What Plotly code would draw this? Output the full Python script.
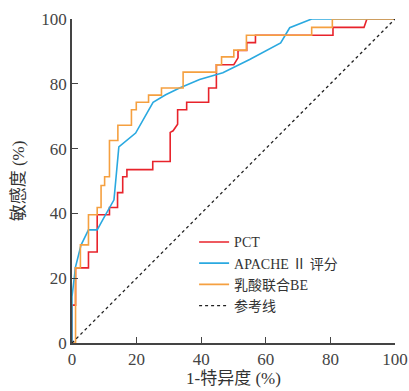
import plotly.graph_objects as go

# PCT ROC curve (1-specificity %, sensitivity %)
pct_x = [0, 0, 1.1, 1.1, 5.1, 5.1, 7.8, 7.8, 11.6, 11.6, 14.1, 14.1, 15.7, 15.7, 17.0, 17.0,
         25.0, 25.0, 30.4, 30.4, 31.3, 32.7, 32.7, 35.5, 35.5, 42.3, 42.3, 44.7, 44.7,
         50.1, 51.4, 51.4, 54.1, 54.1, 56.8, 56.8, 80.8, 80.8, 90.4, 91.3, 100]
pct_y = [0, 11.7, 11.7, 23.2, 23.2, 28.1, 28.1, 39.6, 39.6, 41.8, 41.8, 46.4, 46.4, 51.3, 51.3, 53.5,
         53.5, 56.0, 56.0, 65.0, 65.5, 67.5, 72.0, 72.0, 74.3, 74.3, 78.7, 78.7, 85.9,
         85.9, 88.0, 90.3, 90.3, 92.7, 92.7, 95.0, 95.0, 97.4, 97.4, 100, 100]

# APACHE II score ROC curve
apache_x = [0, 0, 1.1, 2.8, 5.1, 7.8, 9.5, 13.0, 14.5, 17.1, 19.7, 25.1, 29.0, 33.3, 39.5, 46.7,
            55.0, 64.6, 67.4, 74.2, 100]
apache_y = [0, 14.3, 23.5, 30.2, 34.9, 34.9, 38.0, 44.2, 60.5, 62.8, 64.8, 74.3, 76.6, 78.7, 81.3, 83.4,
            87.5, 92.6, 97.3, 100, 100]

# Lactate combined with BE ROC curve
lac_x = [0, 1.1, 1.1, 2.6, 2.6, 5.1, 5.1, 7.8, 7.8, 9.0, 9.0, 10.1, 10.1, 11.6, 11.6, 14.2, 14.2,
         18.4, 18.4, 19.9, 19.9, 23.7, 23.7, 27.7, 27.7, 34.4, 34.4, 44.7, 44.7, 46.3, 46.3,
         50.1, 50.1, 54.0, 54.0, 74.2, 74.2, 80.6, 80.6, 100]
lac_y = [0, 0, 23.2, 23.2, 30.3, 30.3, 39.6, 39.6, 41.8, 41.8, 48.6, 48.6, 51.3, 51.3, 62.5, 62.5, 67.2,
         67.2, 72.0, 72.0, 74.3, 74.3, 76.5, 76.5, 78.7, 78.7, 83.6, 83.6, 85.9, 85.9, 88.3,
         88.3, 90.4, 90.4, 95.0, 95.0, 97.4, 97.4, 100, 100]

ref_x = [0, 100]
ref_y = [0, 100]

names = ["PCT", "APACHE Ⅱ 评分", "乳酸联合BE", "参考线"]
tick_vals = [0, 20, 40, 60, 80, 100]

FONT = '"Liberation Serif", "Times New Roman", "Noto Sans CJK SC", serif'

fig = go.Figure()
fig.add_trace(go.Scatter(x=pct_x, y=pct_y, mode="lines", name=names[0],
                         line=dict(color="#E8232B", width=1.6)))
fig.add_trace(go.Scatter(x=apache_x, y=apache_y, mode="lines", name=names[1],
                         line=dict(color="#2AA9E0", width=1.6)))
fig.add_trace(go.Scatter(x=lac_x, y=lac_y, mode="lines", name=names[2],
                         line=dict(color="#F5A040", width=1.6)))
fig.add_trace(go.Scatter(x=ref_x, y=ref_y, mode="lines", name=names[3],
                         line=dict(color="#222222", width=1.3, dash="dot")))

axis_common = dict(
    range=[0, 100], tickvals=tick_vals, ticks="inside", ticklen=6, tickwidth=1.2,
    tickcolor="#444444", showline=True, linecolor="#444444", linewidth=1.5,
    showgrid=False, zeroline=False, automargin=False,
    tickfont=dict(family=FONT, size=17, color="#444444"),
)

fig.update_layout(
    width=409, height=391,
    margin=dict(l=72, r=14, t=19, b=48, autoexpand=False),
    paper_bgcolor="white", plot_bgcolor="white",
    font=dict(family=FONT, color="#333333"),
    xaxis=dict(**axis_common,
               title=dict(text="1-特异度 (%)", font=dict(family=FONT, size=17, color="#333333"),
                          standoff=2)),
    yaxis=dict(**axis_common,
               title=dict(text="敏感度 (%)", font=dict(family=FONT, size=17, color="#333333"),
                          standoff=12)),
    legend=dict(x=0.378, y=0.36, xanchor="left", yanchor="top",
                bgcolor="rgba(0,0,0,0)", font=dict(family=FONT, size=14, color="#333333"),
                tracegroupgap=0, itemwidth=30),
    showlegend=True,
)

fig.write_html("out.html",
               config={"displayModeBar": False},
               post_script="document.body.style.margin='0px';document.body.style.overflow='hidden';")
